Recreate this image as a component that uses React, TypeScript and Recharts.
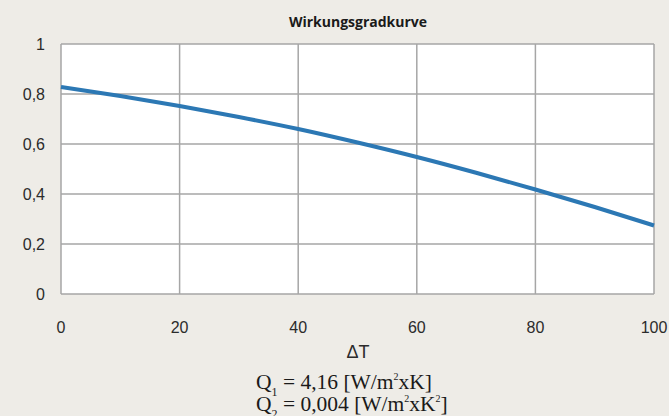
import React from 'react';
import { LineChart, Line, XAxis, YAxis, CartesianGrid } from 'recharts';

// ΔT values and efficiency
const deltaT = [0, 10, 20, 30, 40, 50, 60, 70, 80, 90, 100];
const efficiency = [0.828, 0.792, 0.752, 0.708, 0.66, 0.606, 0.548, 0.485, 0.418, 0.348, 0.274];
const xTicks = [0, 20, 40, 60, 80, 100];
const yTicks = [0, 0.2, 0.4, 0.6, 0.8, 1];

const chartData = deltaT.map((t, i) => ({ t, eta: efficiency[i] }));

const fmt = (v: number) => String(v).replace('.', ',');

const sans = 'Liberation Sans, Arial, sans-serif';
const serif = 'Liberation Serif, Times New Roman, serif';

const sub: React.CSSProperties = { fontSize: 12, position: 'relative', top: 7 };
const sup: React.CSSProperties = { fontSize: 10, position: 'relative', top: -9 };

const App: React.FC = () => {
  return (
    <div style={{ position: 'absolute', left: 0, top: 0, width: 669, height: 416, background: '#eeece7', overflow: 'hidden', fontFamily: sans }}>
      <div style={{ position: 'absolute', left: 0, width: 716, top: 12, textAlign: 'center', fontFamily: '"Open Sans", sans-serif', fontWeight: 700, fontSize: 14, color: '#1a1a1a' }}>
        Wirkungsgradkurve
      </div>
      <LineChart width={669} height={416} data={chartData} margin={{ top: 44, right: 15, left: 0, bottom: 92 }} style={{ fontFamily: sans }}>
        <CartesianGrid stroke="#a6a6a6" strokeWidth={1.5} fill="#ffffff" horizontalValues={yTicks} verticalValues={xTicks} />
        <XAxis
          dataKey="t"
          type="number"
          domain={[0, 100]}
          ticks={xTicks}
          axisLine={false}
          tickLine={false}
          height={30}
          tick={{ fontSize: 16, fill: '#2b2b2b', fontFamily: sans }}
          tickMargin={22}
        />
        <YAxis
          type="number"
          domain={[0, 1]}
          ticks={yTicks}
          axisLine={false}
          tickLine={false}
          width={61}
          tickFormatter={fmt}
          tick={{ fontSize: 16, fill: '#2b2b2b', fontFamily: sans }}
          tickMargin={10}
        />
        <Line type="monotone" dataKey="eta" stroke="#2c78b4" strokeWidth={4} dot={false} isAnimationActive={false} />
      </LineChart>
      <div style={{ position: 'absolute', left: 0, width: 716, top: 342, textAlign: 'center', fontFamily: sans, fontSize: 18, color: '#2b2b2b' }}>
        ΔT
      </div>
      <div style={{ position: 'absolute', left: 256, top: 371, fontFamily: serif, fontSize: 21.5, color: '#1a1a1a', lineHeight: '22px', whiteSpace: 'nowrap' }}>
        <div style={{ height: 22 }}>Q<span style={sub}>1</span> = 4,16 [W/m<span style={sup}>2</span>xK]</div>
        <div style={{ height: 22 }}>Q<span style={sub}>2</span> = 0,004 [W/m<span style={sup}>2</span>xK<span style={sup}>2</span>]</div>
      </div>
    </div>
  );
};

export default App;
